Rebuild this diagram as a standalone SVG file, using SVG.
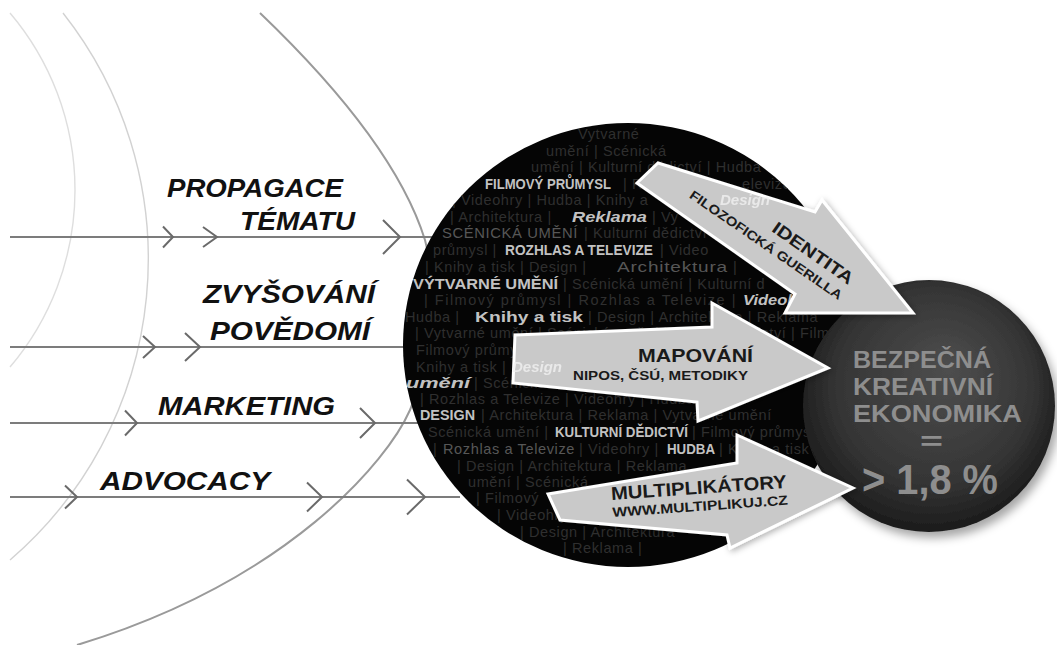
<svg xmlns="http://www.w3.org/2000/svg" width="1057" height="645" viewBox="0 0 1057 645">
  <defs>
    <style>
      .arc{fill:none}
      .flow{stroke:#7c7c7c;stroke-width:2.2;fill:none}
      .chev{stroke:#6a6a6a;stroke-width:2;fill:none;stroke-linejoin:miter;stroke-linecap:butt}
      .label{font-family:"Liberation Sans",Arial,sans-serif;font-weight:bold;font-style:italic;font-size:25px;fill:#111}
      .bg{font-family:"Liberation Sans",Arial,sans-serif;font-size:14.5px;letter-spacing:0.6px;fill:#2f2f2f}
      .mid{fill:#575757}
      .hl{font-weight:bold;fill:#c2c2c2;letter-spacing:0}
      .hi{font-weight:bold;font-style:italic;fill:#c2c2c2;letter-spacing:0}
      .thru{font-family:"Liberation Sans",Arial,sans-serif;font-weight:bold;font-style:italic;font-size:15px;fill:#f2f2f2}
      .arrow{fill:#c9c9c9;stroke:#fff;stroke-width:3;stroke-linejoin:miter}
      .atxt{font-family:"Liberation Sans",Arial,sans-serif;fill:#1a1a1a;font-weight:bold}
      .eco{font-family:"Liberation Sans",Arial,sans-serif;font-weight:bold;fill:#8e8e8e}
    </style>
    <radialGradient id="sphereFill" cx="50%" cy="45%" r="55%" fx="58%" fy="35%">
      <stop offset="0" stop-color="#4e4e4e"/>
      <stop offset="0.7" stop-color="#353535"/>
      <stop offset="1" stop-color="#1b1b1b"/>
    </radialGradient>
    <filter id="soft" x="-20%" y="-20%" width="150%" height="150%">
      <feDropShadow dx="4" dy="6" stdDeviation="5" flood-color="#000" flood-opacity="0.35"/>
    </filter>
    <filter id="arrowShadow" x="-20%" y="-20%" width="140%" height="140%">
      <feDropShadow dx="2" dy="2" stdDeviation="3" flood-color="#000" flood-opacity="0.3"/>
    </filter>
    <clipPath id="discClip">
      <ellipse cx="628" cy="345" rx="225" ry="222"/>
    </clipPath>
  </defs>

  <rect width="1057" height="645" fill="#fff"/>

  <!-- background arcs -->
  <g id="arcs">
    <path class="arc" d="M10,13 A273.5,273.5 0 0 1 10,367" stroke="#dedede" stroke-width="1.4"/>
    <path class="arc" d="M63,13 A397,397 0 0 1 10,560" stroke="#d2d2d2" stroke-width="1.4"/>
    <path class="arc" d="M260,13 C330,80 400,160 425,240 C440,300 432,360 410,410 C388,460 290,580 77,645" stroke="#9a9a9a" stroke-width="2"/>
  </g>

  <!-- flow lines with chevrons -->
  <g id="connectors">
    <line class="flow" x1="10" y1="237" x2="440" y2="237"/>
    <line class="flow" x1="10" y1="347" x2="415" y2="347"/>
    <line class="flow" x1="10" y1="423" x2="425" y2="423"/>
    <line class="flow" x1="10" y1="497" x2="460" y2="497"/>
    <path class="chev" d="M163,226.5 L173,237 L163,247.5"/>
    <path class="chev" d="M203,227 L217,237 L203,247"/>
    <path class="chev" d="M383,220 L400,237 L383,254"/>
    <path class="chev" d="M143,336 L155,347 L143,358"/>
    <path class="chev" d="M185,333 L200,347 L185,361"/>
    <path class="chev" d="M125,410.5 L137,423 L125,435.5"/>
    <path class="chev" d="M360,408 L375,423 L360,438"/>
    <path class="chev" d="M65,485.5 L77,497 L65,508.5"/>
    <path class="chev" d="M307,482.5 L322,497 L307,511.5"/>
    <path class="chev" d="M407,479.5 L425,497 L407,514.5"/>
  </g>

  <g id="node-propagace">
    <text class="label" x="167" y="197" textLength="176" lengthAdjust="spacingAndGlyphs">PROPAGACE</text>
    <text class="label" x="240" y="230" textLength="115" lengthAdjust="spacingAndGlyphs">TÉMATU</text>
  </g>
  <g id="node-zvysovani">
    <text class="label" x="203" y="303" textLength="172" lengthAdjust="spacingAndGlyphs">ZVYŠOVÁNÍ</text>
    <text class="label" x="210" y="340" textLength="160" lengthAdjust="spacingAndGlyphs">POVĚDOMÍ</text>
  </g>
  <g id="node-marketing">
    <text class="label" x="158" y="415" textLength="177" lengthAdjust="spacingAndGlyphs">MARKETING</text>
  </g>
  <g id="node-advocacy">
    <text class="label" x="100" y="490" textLength="170" lengthAdjust="spacingAndGlyphs">ADVOCACY</text>
  </g>

  <!-- black disc filled with the sector names -->
  <g id="node-disc">
    <ellipse cx="628" cy="345" rx="225" ry="222" fill="#050505"/>
    <g clip-path="url(#discClip)">
      <text class="bg" x="578" y="139" letter-spacing="3.6">Vytvarné</text>
      <text class="bg" x="546" y="156" letter-spacing="2.8">umění  |  Scénická</text>
      <text class="bg" x="531" y="172" letter-spacing="1.6">umění | Kulturní dědictví | Hudba</text>

      <text class="bg hl" x="485" y="189" font-size="12.5" textLength="126" lengthAdjust="spacingAndGlyphs">FILMOVÝ PRŮMYSL</text>
      <text class="bg" x="623" y="189">| R</text>
      <text class="bg" x="742" y="189">elevize |</text>

      <text class="bg" x="452" y="205">| Videohry | Hudba | Knihy a</text>

      <text class="bg" x="450" y="222">| Architektura |</text>
      <text class="bg hi" x="572" y="222" font-size="15" textLength="75" lengthAdjust="spacingAndGlyphs">Reklama</text>
      <text class="bg" x="652" y="222">| Vy</text>

      <text class="bg mid" x="442" y="238" font-size="15" textLength="136" lengthAdjust="spacingAndGlyphs">SCÉNICKÁ UMĚNÍ</text>
      <text class="bg" x="584" y="238">| Kulturní dědictví</text>

      <text class="bg" x="433" y="255">průmysl |</text>
      <text class="bg hl" x="505" y="255" font-size="14" textLength="148" lengthAdjust="spacingAndGlyphs">ROZHLAS A TELEVIZE</text>
      <text class="bg" x="660" y="255">| Video</text>

      <text class="bg" x="425" y="272">| Knihy a tisk | Design |</text>
      <text class="bg mid" x="617" y="272" font-size="16" textLength="111" lengthAdjust="spacingAndGlyphs">Architektura</text>
      <text class="bg" x="733" y="272">|</text>

      <text class="bg hl" x="413" y="289" font-size="14" textLength="145" lengthAdjust="spacingAndGlyphs">VÝTVARNÉ UMĚNÍ</text>
      <text class="bg" x="563" y="289">| Scénická umění | Kulturní d</text>

      <text class="bg" x="424" y="305" textLength="312" lengthAdjust="spacing">| Filmový průmysl | Rozhlas a Televize |</text>
      <text class="bg hi" x="743" y="305" font-size="15" textLength="70" lengthAdjust="spacingAndGlyphs">Videohry</text>

      <text class="bg" x="405" y="322">Hudba |</text>
      <text class="bg hl" x="475" y="322" font-size="16" textLength="108" lengthAdjust="spacingAndGlyphs">Knihy a tisk</text>
      <text class="bg" x="588" y="322">| Design | Architektura | Reklama</text>

      <text class="bg" x="415" y="338">| Vytvarné umění | Scénická umění | Kulturní dědictví | Filmový</text>
      <text class="bg" x="416" y="355" letter-spacing="1.6">Filmový průmysl</text>

      <text class="bg" x="416" y="372">Knihy a tisk |</text>

      <text class="bg hi" x="406" y="388" font-size="15" textLength="64" lengthAdjust="spacingAndGlyphs">umění</text>
      <text class="bg" x="474" y="388">| Scénická</text>

      <text class="bg" x="420" y="404" letter-spacing="1.6">| Rozhlas a Televize | Videohry | Hudba a tisk</text>

      <text class="bg hl" x="420" y="420" font-size="14" textLength="55" lengthAdjust="spacingAndGlyphs">DESIGN</text>
      <text class="bg" x="481" y="420">| Architektura | Reklama | Vytvarné umění</text>

      <text class="bg" x="428" y="437">Scénická umění |</text>
      <text class="bg hl" x="555" y="437" font-size="14" textLength="133" lengthAdjust="spacingAndGlyphs">KULTURNÍ DĚDICTVÍ</text>
      <text class="bg" x="692" y="437">| Filmový průmysl</text>

      <text class="bg" x="433" y="454">|</text>
      <text class="bg mid" x="443" y="454" font-size="15" textLength="132" lengthAdjust="spacingAndGlyphs">Rozhlas a Televize</text>
      <text class="bg" x="579" y="454">| Videohry |</text>
      <text class="bg hl" x="667" y="454" font-size="14" textLength="48" lengthAdjust="spacingAndGlyphs">HUDBA</text>
      <text class="bg" x="719" y="454">| Knihy a tisk</text>

      <text class="bg" x="457" y="471" letter-spacing="2.1">| Design | Architektura | Reklama</text>
      <text class="bg" x="468" y="487" letter-spacing="2.1">umění | Scénická</text>
      <text class="bg" x="476" y="503" letter-spacing="2.1">| Filmový</text>
      <text class="bg" x="497" y="520" letter-spacing="2.1">| Videohry</text>
      <text class="bg" x="520" y="537" letter-spacing="2.4">| Design | Architektura</text>
      <text class="bg" x="563" y="553" letter-spacing="2.6">| Reklama |</text>
    </g>
  </g>

  <!-- target sphere -->
  <g id="node-ekonomika">
    <circle cx="929" cy="406" r="126" fill="url(#sphereFill)" filter="url(#soft)"/>
    <text class="eco" x="853" y="368" font-size="24" textLength="138" lengthAdjust="spacingAndGlyphs">BEZPEČNÁ</text>
    <text class="eco" x="853" y="395" font-size="24" textLength="140" lengthAdjust="spacingAndGlyphs">KREATIVNÍ</text>
    <text class="eco" x="853" y="422" font-size="24" textLength="169" lengthAdjust="spacingAndGlyphs">EKONOMIKA</text>
    <text class="eco" x="920" y="450" font-size="25" textLength="23" lengthAdjust="spacingAndGlyphs">=</text>
    <text class="eco" x="862" y="494" font-size="42" textLength="136" lengthAdjust="spacingAndGlyphs">&gt; 1,8 %</text>
  </g>

  <!-- arrows -->
  <g id="node-identita" filter="url(#arrowShadow)">
    <polygon class="arrow" points="658,163 815,212 822,200 913,313 785,313 795,294 637,183"/>
  </g>
  <g id="node-mapovani" filter="url(#arrowShadow)">
    <polygon class="arrow" points="515,335 712,327 712,303 828,368 698,421 697,402 513,383"/>
  </g>
  <g id="node-multiplikatory" filter="url(#arrowShadow)">
    <polygon class="arrow" points="548,494 737,463 737,435 853,488 730,548 727,535 560,520"/>
  </g>

  <!-- highlighted sector names showing through the translucent arrows -->
  <g id="see-through" opacity="0.8">
    <text class="thru" x="720" y="205" font-style="normal" font-size="14">Design</text>
    <text class="thru" x="512" y="372">Design</text>
  </g>

  <g id="node-identita-text">
    <text class="atxt" x="809.6" y="258" font-size="17.5" text-anchor="middle" textLength="95" lengthAdjust="spacingAndGlyphs" transform="rotate(35 809.6 258)">IDENTITA</text>
    <text class="atxt" x="763.5" y="248.7" font-size="13" text-anchor="middle" textLength="182" lengthAdjust="spacingAndGlyphs" transform="rotate(34.5 763.5 248.7)">FILOZOFICKÁ GUERILLA</text>
  </g>
  <g id="node-mapovani-text">
    <text class="atxt" x="638" y="362" font-size="18" textLength="115" lengthAdjust="spacingAndGlyphs">MAPOVÁNÍ</text>
    <text class="atxt" x="573" y="380" font-size="13.5" textLength="175" lengthAdjust="spacingAndGlyphs">NIPOS, ČSÚ, METODIKY</text>
  </g>
  <g id="node-multiplikatory-text" transform="rotate(-4 612 508)">
    <text class="atxt" x="612" y="500" font-size="18.5" textLength="176" lengthAdjust="spacingAndGlyphs">MULTIPLIKÁTORY</text>
    <text class="atxt" x="612" y="517" font-size="13.5" textLength="176" lengthAdjust="spacingAndGlyphs">WWW.MULTIPLIKUJ.CZ</text>
  </g>
</svg>
